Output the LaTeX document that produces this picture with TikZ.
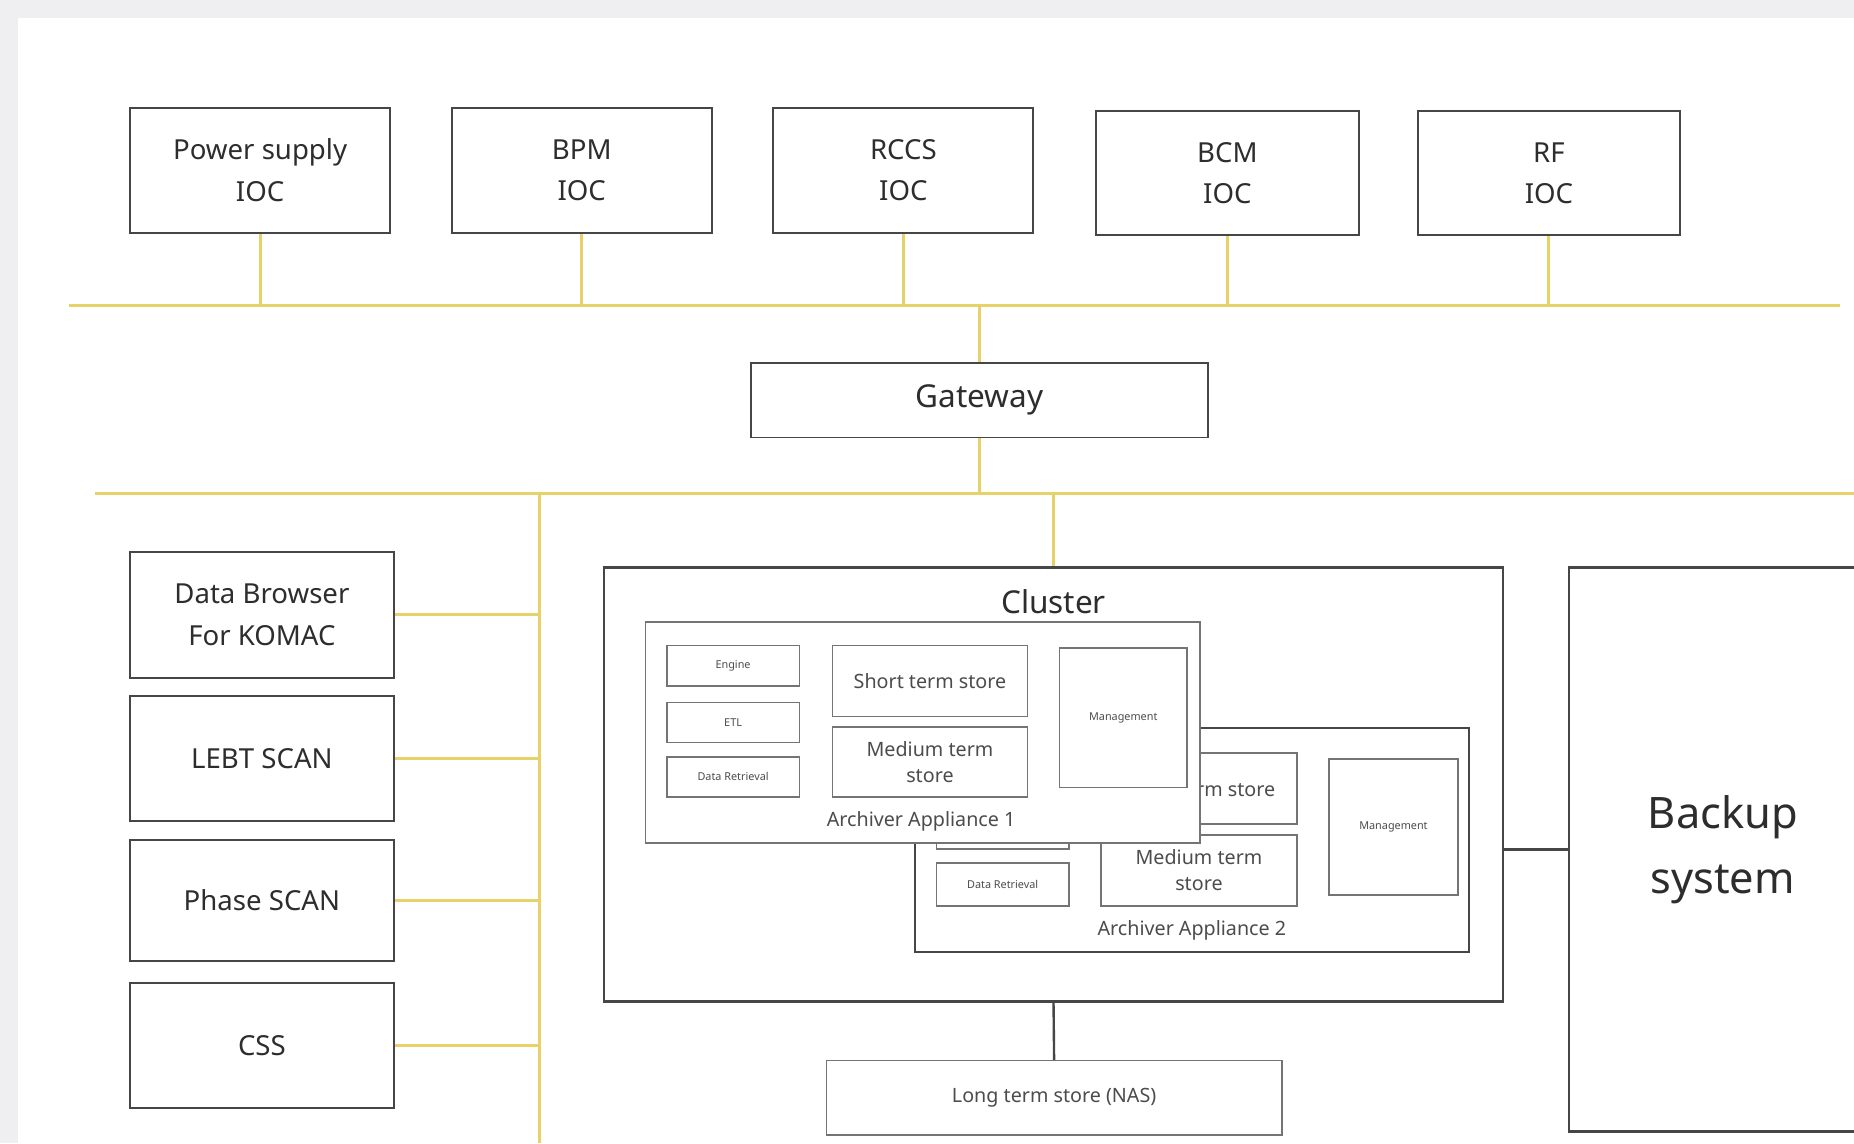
\documentclass[tikz,border=0pt]{standalone}
\usepackage{fontspec}
\setmainfont{Noto Sans}
\definecolor{busc}{RGB}{230,210,105}
\definecolor{edgec}{RGB}{70,70,70}
\definecolor{txtc}{RGB}{45,45,45}
\definecolor{bgc}{RGB}{239,239,241}
% \bx{name}{style}{x1}{y1}{x2}{y2}{text}
\newcommand\bx[7]{\node[#2, minimum width={(#5-#3)*0.6pt}, minimum height={(#6-#4)*0.6pt}] (#1) at ({(#3+#5)/2},{(#4+#6)/2}) {#7};}
\begin{document}
\begin{tikzpicture}[x=0.6pt,y=-0.6pt,
  box/.style={draw=edgec, line width=1pt, fill=white, inner sep=0pt, align=center, text=txtc},
  sbox/.style={draw=edgec!75, line width=0.8pt, fill=white, inner sep=0pt, align=center, text=txtc!85},
  ybus/.style={draw=busc, line width=1.5pt},
  blk/.style={draw=edgec, line width=1.2pt},
  fmain/.style={font=\fontsize{14}{21}\selectfont},
  fmid/.style={font=\fontsize{10}{13}\selectfont},
  ftiny/.style={font=\fontsize{5.5}{7}\selectfont},
]
\useasboundingbox (0,0) rectangle (1568,967);
\clip (0,0) rectangle (1568,967);
\fill[bgc] (0,0) rectangle (1568,967);
\fill[white] (15,15) rectangle (1568,967);

% bus coordinates
\coordinate (busAL) at (58,258);
\coordinate (busAR) at (1556,258);
\coordinate (busBL) at (80,417);
\coordinate (busBR) at (1568,417);
\coordinate (vtop) at (456,417);
\coordinate (vbot) at (456,967);

% top IOC boxes
\bx{ps}{box,fmain}{110}{91}{330}{197}{Power supply\\IOC}
\bx{bpm}{box,fmain}{382}{91}{602}{197}{BPM\\IOC}
\bx{rccs}{box,fmain}{654}{91}{874}{197}{RCCS\\IOC}
\bx{bcm}{box,fmain}{927}{94}{1149}{199}{BCM\\IOC}
\bx{rf}{box,fmain}{1199}{94}{1421}{199}{RF\\IOC}

% gateway
\bx{gw}{box,font=\fontsize{16}{19}\selectfont}{635}{307}{1022}{370}{Gateway}

% left clients
\bx{db}{box,fmain}{110}{467}{333}{573}{Data Browser\\For KOMAC}
\bx{lebt}{box,fmain}{110}{589}{333}{694}{LEBT SCAN}
\bx{phase}{box,fmain}{110}{710}{333}{813}{Phase SCAN}
\bx{css}{box,fmain}{110}{831}{333}{937}{CSS}

% yellow lines
\draw[ybus] (busAL) -- (busAR);
\draw[ybus] (busBL) -- (busBR);
\foreach \n in {ps,bpm,rccs,bcm,rf}{
  \draw[ybus] (\n.south) -- (\n.south |- busAL);
}
\draw[ybus] (gw.north) -- (gw.north |- busAL);
\draw[ybus] (gw.south) -- (gw.south |- busBL);
\draw[ybus] (vtop) -- (vbot);
\foreach \n in {db,lebt,phase,css}{
  \draw[ybus] (\n.east) -- (\n.east -| vtop);
}

% cluster
\bx{cluster}{box,line width=1.2pt}{511}{480}{1271}{847}{}
\node[text=txtc, font=\fontsize{16}{19}\selectfont, anchor=center] (clt) at (891,509) {Cluster};
\draw[ybus] (cluster.north |- busBL) -- (cluster.north);

% Archiver Appliance 2 (behind)
\bx{aa2}{box}{774}{616}{1242}{805}{}
\node[text=txtc!85, fmid] (aa2t) at (1008,787) {Archiver Appliance 2};
\bx{eng2}{sbox}{792}{636}{904}{670}{}
\bx{etl2}{sbox}{792}{684}{904}{718}{}
\bx{dr2}{sbox,ftiny}{792}{730}{904}{766}{Data Retrieval}
\bx{st2}{sbox,fmid}{931}{637}{1097}{697}{Short term store}
\bx{mt2}{sbox,fmid}{931}{706}{1097}{766}{Medium term\\store}
\bx{mg2}{sbox,ftiny}{1124}{642}{1233}{757}{Management}

% Archiver Appliance 1 (front)
\bx{aa1}{sbox}{546}{526}{1015}{713}{}
\node[text=txtc!85, fmid] (aa1t) at (779,695) {Archiver Appliance 1};
\bx{eng1}{sbox,ftiny}{564}{546}{676}{580}{Engine}
\bx{etl1}{sbox,ftiny}{564}{594}{676}{628}{ETL}
\bx{dr1}{sbox,ftiny}{564}{640}{676}{674}{Data Retrieval}
\bx{st1}{sbox,fmid}{704}{546}{869}{606}{Short term store}
\bx{mt1}{sbox,fmid}{704}{615}{869}{674}{Medium term\\store}
\bx{mg1}{sbox,ftiny}{896}{548}{1004}{666}{Management}

% long term store
\bx{nas}{sbox,fmid}{699}{897}{1084}{960}{Long term store (NAS)}
\draw[blk] (cluster.south) -- (nas.north);

% backup
\bx{backup}{box,line width=1.2pt,font=\fontsize{22}{33}\selectfont}{1327}{480}{1587}{957}{Backup\\system}
\draw[blk] (cluster.east |- backup.west) -- (backup.west);
\end{tikzpicture}
\end{document}
